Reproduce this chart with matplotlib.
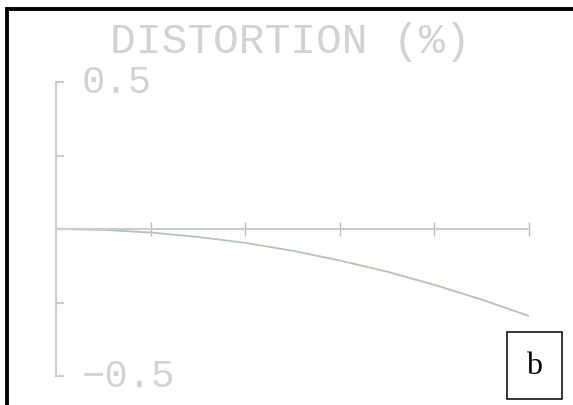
import numpy as np
import matplotlib
matplotlib.use("Agg")
import matplotlib.pyplot as plt
from matplotlib.patches import Rectangle

# relative field height vs distortion (%)
field = [0.0, 0.1, 0.2, 0.3, 0.4, 0.5, 0.6, 0.7, 0.8, 0.9, 1.0]
distortion = [0.0, -0.003, -0.012, -0.027, -0.047, -0.074, -0.107, -0.145, -0.19, -0.24, -0.296]
xticks = [0.2, 0.4, 0.6, 0.8, 1.0]
yticks = [-0.5, -0.25, 0.0, 0.25, 0.5]
title = "DISTORTION (%)"
panel = "b"

W, H = 573, 406
fig = plt.figure(figsize=(W / 100, H / 100), dpi=100)
fig.patch.set_facecolor("white")

axis_col = "#cccccc"
text_col = "#d2d2d2"

# axes box in pixels: x 56..529, y 83..377
ax = fig.add_axes([56 / W, (H - 377) / H, (529 - 56) / W, (377 - 83) / H])
ax.set_xlim(0, 1)
ax.set_ylim(-0.5, 0.5)
ax.patch.set_alpha(0)
for s in ["top", "right"]:
    ax.spines[s].set_visible(False)
ax.spines["left"].set_position(("data", 0))
ax.spines["bottom"].set_position(("data", 0))
ax.spines["left"].set_color(axis_col)
ax.spines["bottom"].set_color(axis_col)
ax.spines["left"].set_linewidth(1.5)
ax.spines["bottom"].set_linewidth(1.5)
ax.set_xticks(xticks)
ax.set_yticks(yticks)
ax.tick_params(axis="x", direction="inout", length=10, width=1.0, color="#bcbcbc", labelbottom=False)
ax.tick_params(axis="y", direction="in", length=6, width=1.5, color=axis_col, labelleft=False)

ax.plot(field, distortion, color="#b5c3b5", lw=1.3, solid_capstyle="butt")

mono = "Liberation Mono"
ax.text(0.055, 0.5, "0.5", fontsize=28, family=mono, color=text_col, va="center", ha="left")
ax.text(0.055, -0.5, "\u22120.5", fontsize=28, family=mono, color=text_col, va="center", ha="left")
fig.text(290 / W, 1 - 42 / H, title, fontsize=31, family=mono, color=text_col, ha="center", va="center")

# outer black frame (only top and left visible)
fig.patches.append(Rectangle((7 / W, -0.2), 1.2, 1.2 - 9.5 / H, transform=fig.transFigure,
                             fill=False, edgecolor="black", lw=2.8, clip_on=False))

# panel label box
fig.patches.append(Rectangle((507 / W, 1 - 400 / H), 55 / W, 67 / H, transform=fig.transFigure,
                             fill=False, edgecolor="black", lw=1.1))
fig.text(534 / W, 1 - 367 / H, panel, fontsize=23, family="Liberation Serif", color="black",
         ha="center", va="center")

fig.savefig("out.png", dpi=100)
